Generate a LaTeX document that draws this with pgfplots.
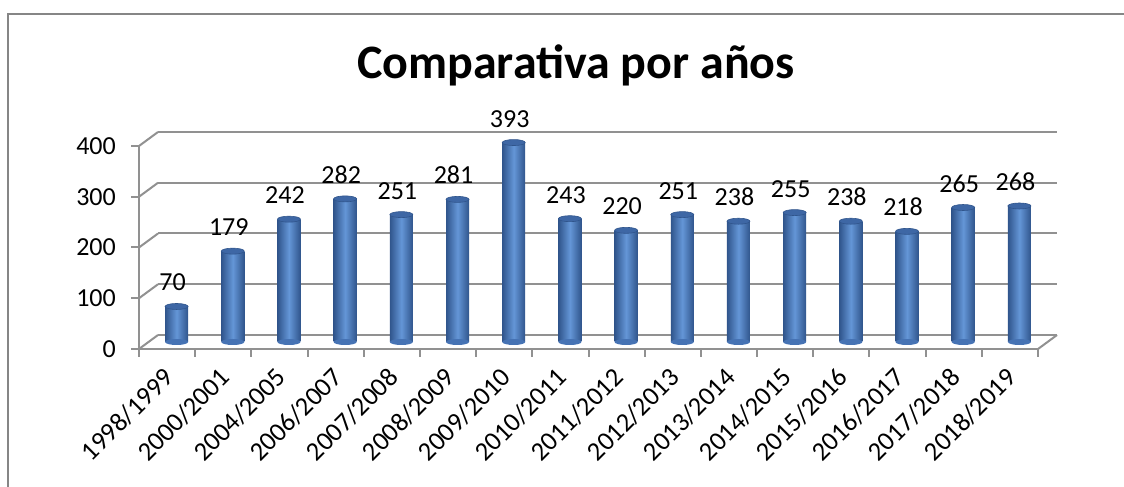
\documentclass[border=0pt]{standalone}
\usepackage{fontspec}
\setmainfont{Carlito}
\usepackage{pgfplots}
\usepackage{pgfplotstable}
\pgfplotsset{compat=1.18}

\definecolor{gridgray}{RGB}{145,145,145}
\definecolor{framegray}{RGB}{134,134,134}
\definecolor{bardark}{RGB}{48,85,140}
\definecolor{barlight}{RGB}{100,150,215}
\definecolor{barmid}{RGB}{70,115,180}
\definecolor{bartop}{RGB}{62,103,165}

\pgfdeclareplotmark{cyltop}{\pgfpathellipse{\pgfpointorigin}{\pgfqpoint{11.5pt}{0pt}}{\pgfqpoint{0pt}{3pt}}\pgfusepathqfillstroke}
\pgfdeclareplotmark{cylbot}{\pgfpathellipse{\pgfpointorigin}{\pgfqpoint{11.5pt}{0pt}}{\pgfqpoint{0pt}{3pt}}\pgfusepathqfill}

\pgfplotstableread{
x v
0 70
1 179
2 242
3 282
4 251
5 281
6 393
7 243
8 220
9 251
10 238
11 255
12 238
13 218
14 265
15 268
}\datatable

\newcommand{\lbl}{\fontsize{26}{30}\selectfont}
\newcommand{\xlbl}{\fontsize{26.5}{31}\selectfont}

\begin{document}
\begin{tikzpicture}[x=1pt,y=1pt]
\useasboundingbox (0,0) rectangle (1124,487);
\draw[framegray, line width=2pt] (8,0) -- (8,473) -- (1124,473);
\node[anchor=base, font=\fontsize{48}{52}\selectfont\bfseries] at (576,408) {Comparativa por años};

% back wall
\begin{axis}[
  at={(158pt,152pt)}, anchor=south west,
  scale only axis, width=899pt, height=203pt,
  xmin=-0.5, xmax=15.5, ymin=0, ymax=400,
  ytick={0,100,200,300,400}, yticklabels={},
  xtick=\empty,
  ymajorgrids, grid style={gridgray, line width=2pt},
  axis line style={draw=none}, tick style={draw=none},
  major tick length=0pt,
]
\addplot[draw=none] coordinates {(0,0)};
\end{axis}

% bars (mid depth)
\begin{axis}[
  at={(148.5pt,145pt)}, anchor=south west,
  scale only axis, width=899pt, height=203pt,
  xmin=-0.5, xmax=15.5, ymin=0, ymax=400,
  hide axis, clip=false,
  /pgf/number format/assume math mode=true,
]
\addplot[only marks, mark=cylbot, mark options={fill=barmid, draw=none}] table[x=x, y expr=0] {\datatable};
\pgfplotsinvokeforeach{0,...,15}{
  \addplot[ybar, bar width=23pt, bar shift=0pt, draw=none, left color=bardark, right color=bardark, middle color=barlight,
    restrict expr to domain={\coordindex}{#1:#1}] table[x=x, y=v] {\datatable};
}
\addplot[only marks, mark=cyltop, mark options={fill=bartop, draw=bardark, line width=0.6pt},
  nodes near coords, point meta=explicit,
  nodes near coords style={font=\lbl, text=black, anchor=south, inner sep=0pt, yshift=15pt, xshift=-4pt}]
  table[x=x, y=v, meta=v] {\datatable};
\end{axis}

% front axes
\begin{axis}[
  at={(139pt,138pt)}, anchor=south west,
  scale only axis, width=899pt, height=203pt,
  xmin=-0.5, xmax=15.5, ymin=0, ymax=400,
  clip=false,
  axis x line=bottom, axis y line=left,
  axis line style={-, draw=gridgray, line width=2pt},
  tick style={draw=gridgray, line width=2pt},
  tick align=outside, major tick length=8pt,
  ytick={0,100,200,300,400},
  xtick={-0.5,0.5,...,15.5}, xticklabels={},
  extra x ticks={0,1,...,15},
  extra x tick labels={1998/1999,2000/2001,2004/2005,2006/2007,2007/2008,2008/2009,2009/2010,2010/2011,2011/2012,2012/2013,2013/2014,2014/2015,2015/2016,2016/2017,2017/2018,2018/2019},
  extra x tick style={major tick length=0pt, tick style={draw=none},
    xticklabel style={xshift=2pt, yshift=-24pt, rotate=45, anchor=east, font=\xlbl, inner sep=0pt}},
  yticklabel style={font=\lbl, anchor=east, inner sep=0pt, xshift=-15pt},
  /pgf/number format/assume math mode=true,
]
\addplot[draw=none] coordinates {(0,0)};
\foreach \v in {0,100,200,300,400} {
  \edef\tmp{\noexpand\draw[gridgray, line width=2pt] (axis cs:-0.5,\v) -- ++(19pt,14pt);}
  \tmp
}
\draw[gridgray, line width=2pt] (axis cs:15.5,0) -- ++(19pt,14pt);
\end{axis}
\end{tikzpicture}
\end{document}
